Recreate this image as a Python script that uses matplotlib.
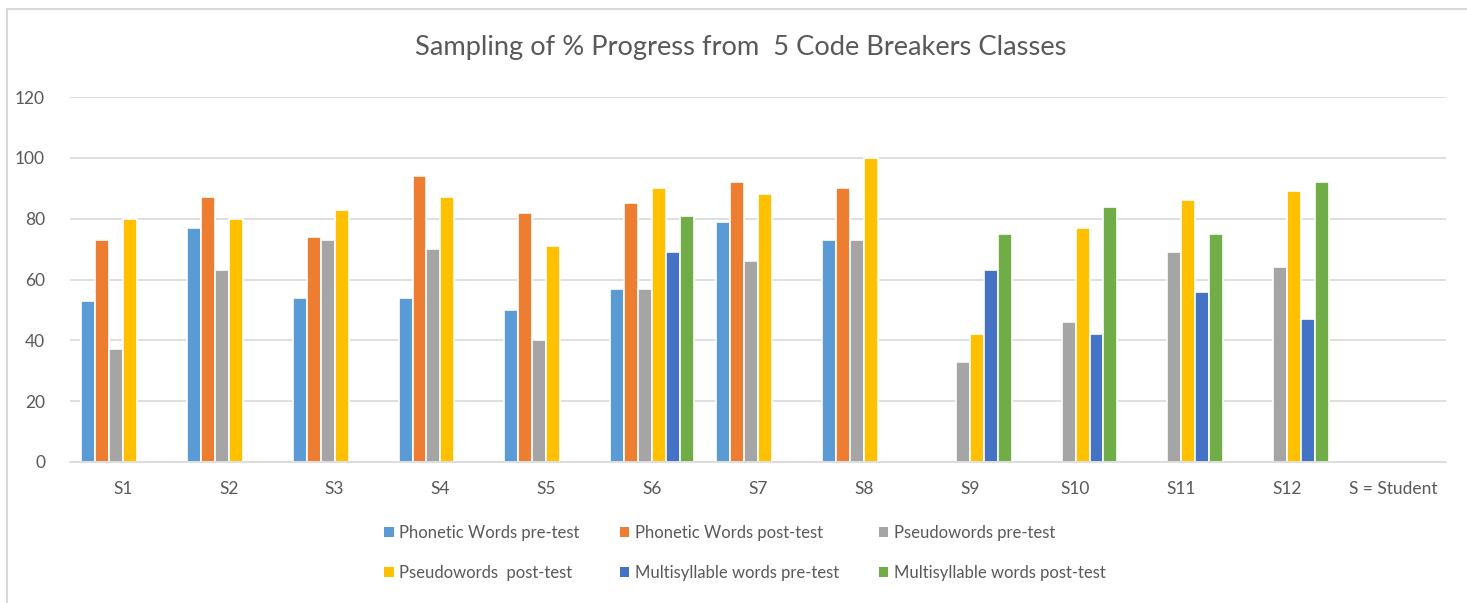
import numpy as np
import matplotlib.pyplot as plt
from matplotlib.patches import Rectangle

plt.rcParams['font.family'] = ['Lato', 'DejaVu Sans']

categories = ['S1', 'S2', 'S3', 'S4', 'S5', 'S6', 'S7', 'S8', 'S9', 'S10', 'S11', 'S12',
              'S = Student']
nan = np.nan

series_names = ['Phonetic Words pre-test', 'Phonetic Words post-test', 'Pseudowords pre-test',
                'Pseudowords  post-test', 'Multisyllable words pre-test',
                'Multisyllable words post-test']

phonetic_pre = [53, 77, 54, 54, 50, 57, 79, 73, nan, nan, nan, nan, nan]
phonetic_post = [73, 87, 74, 94, 82, 85, 92, 90, nan, nan, nan, nan, nan]
pseudo_pre = [37, 63, 73, 70, 40, 57, 66, 73, 33, 46, 69, 64, nan]
pseudo_post = [80, 80, 83, 87, 71, 90, 88, 100, 42, 77, 86, 89, nan]
multi_pre = [nan, nan, nan, nan, nan, 69, nan, nan, 63, 42, 56, 47, nan]
multi_post = [nan, nan, nan, nan, nan, 81, nan, nan, 75, 84, 75, 92, nan]

colors = ['#5B9BD5', '#ED7D31', '#A5A5A5', '#FFC000', '#4472C4', '#70AD47']
text_col = '#595959'
grid_col = '#D9D9D9'

all_series = [phonetic_pre, phonetic_post, pseudo_pre, pseudo_post, multi_pre, multi_post]

fig = plt.figure(figsize=(14.67, 6.03), dpi=100)
ax = fig.add_axes([70 / 1467, 1 - 462 / 603, (1446 - 70) / 1467, (462 - 97) / 603])

x = np.arange(len(categories))
w = 0.132
handles = []
for i, (vals, c, name) in enumerate(zip(all_series, colors, series_names)):
    offs = (i - 2.5) * w
    b = ax.bar(x + offs, np.array(vals, dtype=float), width=w, color=c,
               edgecolor='white', linewidth=1.2, label=name, zorder=3)
    handles.append(b)

ax.set_xlim(-0.5, len(categories) - 0.5)
ax.set_ylim(0, 120)
ax.set_yticks(range(0, 121, 20))
ax.set_xticks(x)
ax.set_xticklabels(categories)
ax.tick_params(axis='both', length=0, labelsize=12.5, colors=text_col)
ax.tick_params(axis='x', pad=14)
ax.tick_params(axis='y', pad=18)
ax.grid(axis='y', color=grid_col, linewidth=1.2, zorder=0)
for s in ['top', 'right', 'left']:
    ax.spines[s].set_visible(False)
ax.spines['bottom'].set_color(grid_col)
ax.spines['bottom'].set_linewidth(1.2)
ax.spines['bottom'].set_zorder(4)

fig.text(741 / 1467, 1 - 48 / 603, 'Sampling of % Progress from  5 Code Breakers Classes',
         ha='center', va='center', fontsize=19.6, color=text_col)

# legend laid out row by row like the original
order = [0, 3, 1, 4, 2, 5]
leg = fig.legend([handles[k] for k in order], [series_names[k] for k in order],
                 ncol=3, loc='center', bbox_to_anchor=(745 / 1467, 1 - 553 / 603),
                 frameon=False, fontsize=12, labelcolor=text_col,
                 handlelength=0.55, handleheight=0.55, handletextpad=0.35,
                 columnspacing=2.4, labelspacing=1.45)
for h in leg.legend_handles:
    h.set_edgecolor('none')

# chart border
fig.patches.append(Rectangle((7 / 1467, -0.01), 1.02, 1 - 9 / 603 + 0.01,
                             transform=fig.transFigure, fill=False,
                             edgecolor=grid_col, linewidth=1.5))

fig.savefig('out.png', dpi=100)
